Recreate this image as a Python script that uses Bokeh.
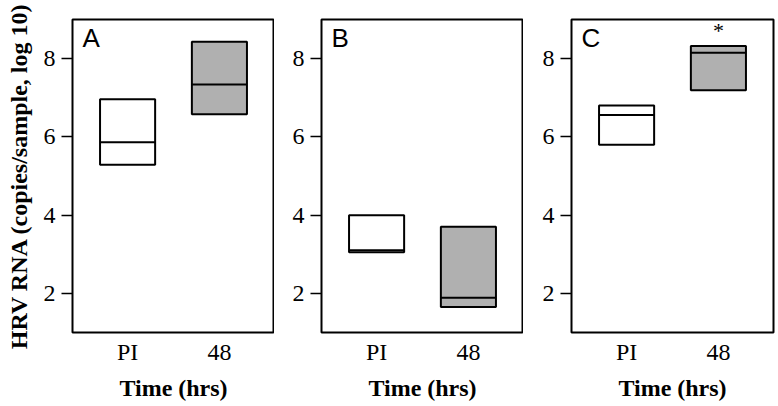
from bokeh.plotting import figure
from bokeh.layouts import row
from bokeh.models import Range1d, FixedTicker, ColumnDataSource, Label
from bokeh.embed import file_html
from bokeh.resources import INLINE

categories = ["PI", "48"]
panel_names = ["A", "B", "C"]

# box statistics (log10 copies/sample): lower quartile, median, upper quartile
q1_A = [5.29, 6.58]
med_A = [5.86, 7.34]
q3_A = [6.96, 8.43]

q1_B = [3.05, 1.65]
med_B = [3.10, 1.89]
q3_B = [4.00, 3.70]

q1_C = [5.80, 7.19]
med_C = [6.56, 8.15]
q3_C = [6.80, 8.32]

y_ticks = [2, 4, 6, 8]
significant = {"C": "48"}
y_title = "HRV RNA (copies/sample, log 10)"
x_title = "Time (hrs)"

box_colors = ["white", "#b0b0b0"]
SERIF = "Liberation Serif"
SANS = "Liberation Sans"

panels = [
    ("A", q1_A, med_A, q3_A),
    ("B", q1_B, med_B, q3_B),
    ("C", q1_C, med_C, q3_C),
]
borders_left = [72, 47, 48]
borders_right = [0, 0, 5]

xpos = list(range(1, len(categories) + 1))

figs = []
for i, (name, q1, med, q3) in enumerate(panels):
    p = figure(
        output_backend="svg", toolbar_location=None,
        frame_width=202, frame_height=313,
        min_border_left=borders_left[i], min_border_right=borders_right[i],
        min_border_top=19, min_border_bottom=74,
        x_range=Range1d(0.4, 2.6), y_range=Range1d(1, 9),
    )
    p.grid.visible = False
    p.outline_line_color = "black"
    p.outline_line_width = 2
    p.outline_line_alpha = 1

    src = ColumnDataSource(dict(x=xpos, q1=q1, med=med, q3=q3, color=box_colors))
    p.vbar(x="x", bottom="q1", top="q3", width=0.6, source=src,
           fill_color="color", line_color="black", line_width=2)
    p.vbar(x="x", bottom="med", top="med", width=0.6, source=src,
           fill_color=None, line_color="black", line_width=2)

    # x axis
    xa = p.xaxis[0]
    xa.ticker = FixedTicker(ticks=xpos)
    xa.major_label_overrides = {x: c for x, c in zip(xpos, categories)}
    xa.major_tick_line_color = None
    xa.major_tick_out = 0
    xa.major_tick_in = 0
    xa.minor_tick_line_color = None
    xa.minor_tick_out = 0
    xa.axis_line_color = None
    xa.major_label_text_font = SERIF
    xa.major_label_text_font_size = "24px"
    xa.major_label_text_color = "black"
    xa.major_label_standoff = 6
    xa.axis_label = x_title
    xa.axis_label_text_font = SERIF
    xa.axis_label_text_font_style = "bold"
    xa.axis_label_text_font_size = "24px"
    xa.axis_label_text_color = "black"
    xa.axis_label_standoff = 7

    # y axis
    ya = p.yaxis[0]
    ya.ticker = FixedTicker(ticks=y_ticks)
    ya.minor_tick_line_color = None
    ya.minor_tick_out = 0
    ya.axis_line_color = None
    ya.major_tick_line_color = "black"
    ya.major_tick_line_width = 1.5
    ya.major_tick_out = 11
    ya.major_tick_in = 0
    ya.major_label_text_font = SERIF
    ya.major_label_text_font_size = "24px"
    ya.major_label_text_color = "black"
    ya.major_label_standoff = 6
    if i == 0:
        ya.axis_label = y_title
        ya.axis_label_text_font = SERIF
        ya.axis_label_text_font_style = "bold"
        ya.axis_label_text_font_size = "24px"
        ya.axis_label_text_color = "black"
        ya.axis_label_standoff = 9

    p.add_layout(Label(x=0.4, y=9, x_offset=10, y_offset=-3, text=name,
                       text_font=SANS, text_font_size="26px",
                       text_baseline="top", text_align="left", text_color="black"))
    if name in significant:
        k = categories.index(significant[name])
        p.add_layout(Label(x=xpos[k], y=q3[k], y_offset=16, text="*",
                           text_font=SERIF, text_font_size="22px",
                           text_baseline="alphabetic", text_align="center",
                           text_color="black"))
    figs.append(p)

layout = row(*figs, spacing=0)
open("out.html", "w").write(file_html(layout, INLINE))
